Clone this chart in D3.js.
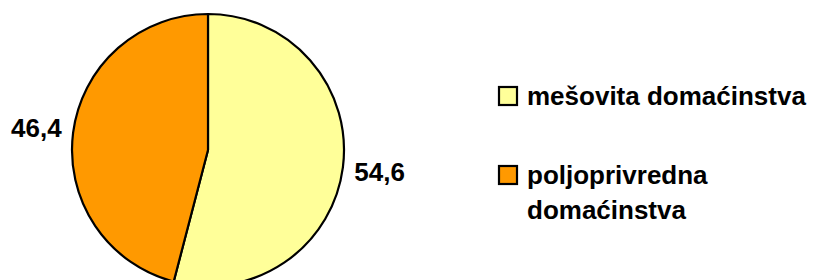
<!DOCTYPE html>
<html>
<head>
<meta charset="utf-8">
<script src="https://cdn.jsdelivr.net/npm/d3@7"></script>
<style>
  body { margin: 0; background: #fff; }
  text { font-family: "Liberation Sans", Arial, sans-serif; font-weight: bold; fill: #000; }
</style>
</head>
<body>
<div id="chart"></div>
<script>
// slice data, clockwise from 12 o'clock
const categories = ["mešovita domaćinstva", "poljoprivredna domaćinstva"];
const values = [54.6, 46.4];
const labels = ["54,6", "46,4"];
const colors = ["#FFFF99", "#FF9900"];
// legend text split in lines as in the picture
const legendLines = [["mešovita domaćinstva"], ["poljoprivredna", "domaćinstva"]];

const W = 827, H = 280;
const cx = 208, cy = 150, radius = 136;

const svg = d3.select("#chart")
    .append("svg")
    .attr("width", W)
    .attr("height", H);

const pie = d3.pie().sort(null).value(d => d);
const arcs = pie(values);

const arc = d3.arc().innerRadius(0).outerRadius(radius);
const labelArc = d3.arc().innerRadius(radius + 37).outerRadius(radius + 37);

const g = svg.append("g")
    .attr("transform", `translate(${cx},${cy})`);

g.selectAll("path")
    .data(arcs)
    .enter()
    .append("path")
    .attr("d", arc)
    .attr("fill", (d, i) => colors[i])
    .attr("stroke", "#000")
    .attr("stroke-width", 2.2)
    .attr("stroke-linejoin", "round");

// value labels outside the pie
g.selectAll(".lbl")
    .data(arcs)
    .enter()
    .append("text")
    .attr("class", "lbl")
    .attr("transform", d => `translate(${labelArc.centroid(d)})`)
    .attr("text-anchor", "middle")
    .attr("dy", "0.35em")
    .style("font-size", "26px")
    .text((d, i) => labels[i]);

// legend
const legendY = [87, 166];
const legend = svg.append("g")
    .attr("transform", "translate(499,0)");

const item = legend.selectAll(".item")
    .data(categories)
    .enter()
    .append("g")
    .attr("class", "item")
    .attr("transform", (d, i) => `translate(0,${legendY[i]})`);

item.append("rect")
    .attr("width", 18)
    .attr("height", 18)
    .attr("fill", (d, i) => colors[i])
    .attr("stroke", "#000")
    .attr("stroke-width", 2.2);

item.append("text")
    .attr("x", 28)
    .attr("y", 18)
    .style("font-size", "26px")
    .selectAll("tspan")
    .data((d, i) => legendLines[i])
    .enter()
    .append("tspan")
    .attr("x", 28)
    .attr("dy", (d, j) => j === 0 ? 0 : 35)
    .text(d => d);
</script>
</body>
</html>
